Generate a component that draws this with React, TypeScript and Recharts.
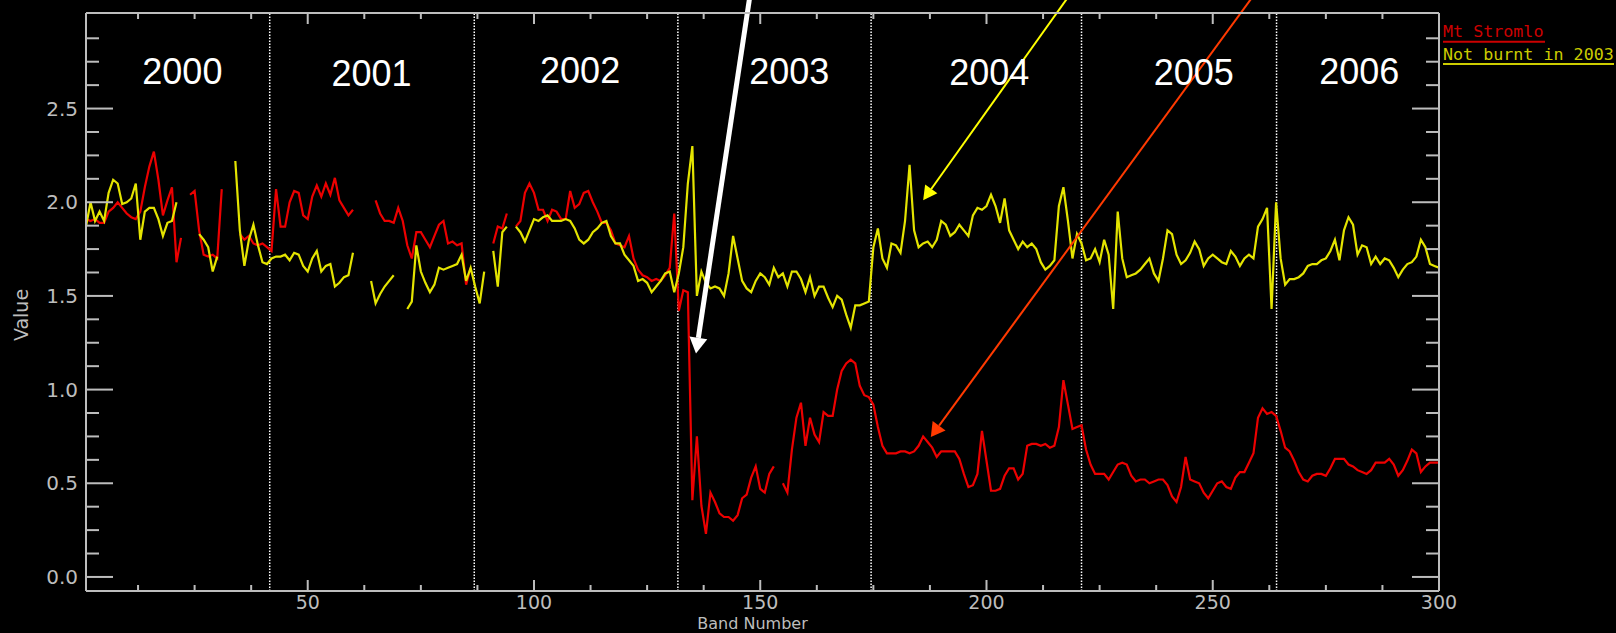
import React from 'react';
import { LineChart, Line, XAxis, YAxis, ReferenceLine, ReferenceDot } from 'recharts';

// ---------- data ----------
const bands: number[] = Array.from({ length: 300 }, (_, i) => i + 1);

const mtStromlo: (number | null)[] = [
  1.91, 1.90, 1.91, 1.89, 1.89, 1.95, 1.97, 2.00, 1.97, 1.94,
  1.92, 1.91, 1.95, 2.08, 2.19, 2.27, 2.12, 1.93, 2.01, 2.08,
  1.68, 1.81, null, 2.04, 2.06, 1.85, 1.72, 1.71, 1.72, 1.70,
  2.07, null, null, null, 1.83, 1.80, 1.82, 1.78, 1.77, 1.78,
  1.76, 1.74, 2.07, 1.87, 1.87, 2.00, 2.06, 2.05, 1.93, 1.91,
  2.03, 2.09, 2.03, 2.10, 2.04, 2.13, 2.01, 1.97, 1.93, 1.96,
  null, null, null, null, 2.01, 1.94, 1.90, 1.90, 1.89, 1.97,
  1.90, 1.77, 1.70, 1.84, 1.84, 1.80, 1.76, 1.82, 1.88, 1.90,
  1.78, 1.79, 1.77, 1.78, 1.56, 1.65, null, null, null, null,
  1.78, 1.87, 1.86, 1.94, null, 1.87, 1.90, 2.05, 2.10, 2.05,
  1.96, 1.96, 1.90, 1.96, 1.95, 1.91, 1.91, 2.06, 1.97, 1.99,
  2.05, 2.06, 2.00, 1.95, 1.89, 1.89, 1.85, 1.78, 1.77, 1.76,
  1.82, 1.70, 1.64, 1.61, 1.60, 1.58, 1.59, 1.58, 1.61, 1.65,
  1.94, 1.42, 1.53, 1.52, 0.41, 0.75, 0.38, 0.23, 0.45, 0.40,
  0.34, 0.32, 0.32, 0.30, 0.33, 0.42, 0.44, 0.53, 0.59, 0.47,
  0.45, 0.55, 0.59, null, 0.50, 0.45, 0.68, 0.85, 0.93, 0.70,
  0.85, 0.76, 0.72, 0.88, 0.86, 0.86, 1.00, 1.10, 1.14, 1.16,
  1.14, 1.02, 0.97, 0.96, 0.92, 0.80, 0.70, 0.66, 0.66, 0.66,
  0.67, 0.67, 0.66, 0.67, 0.70, 0.75, 0.72, 0.69, 0.64, 0.67,
  0.67, 0.67, 0.67, 0.63, 0.55, 0.48, 0.49, 0.55, 0.78, 0.62,
  0.46, 0.46, 0.47, 0.54, 0.58, 0.58, 0.52, 0.55, 0.70, 0.71,
  0.71, 0.70, 0.71, 0.69, 0.70, 0.80, 1.05, 0.92, 0.79, 0.80,
  0.81, 0.68, 0.60, 0.55, 0.55, 0.55, 0.52, 0.56, 0.60, 0.61,
  0.60, 0.54, 0.51, 0.52, 0.52, 0.50, 0.51, 0.52, 0.52, 0.49,
  0.43, 0.40, 0.48, 0.64, 0.52, 0.51, 0.50, 0.45, 0.42, 0.46,
  0.50, 0.51, 0.48, 0.47, 0.53, 0.56, 0.56, 0.61, 0.66, 0.85,
  0.90, 0.87, 0.88, 0.86, 0.78, 0.69, 0.67, 0.62, 0.56, 0.52,
  0.51, 0.54, 0.55, 0.55, 0.54, 0.58, 0.63, 0.63, 0.63, 0.60,
  0.59, 0.57, 0.56, 0.55, 0.57, 0.61, 0.61, 0.61, 0.63, 0.60,
  0.54, 0.57, 0.62, 0.68, 0.66, 0.56, 0.59, 0.61, 0.61, 0.61,
];

const notBurnt: (number | null)[] = [
  1.87, 2.00, 1.90, 1.95, 1.90, 2.05, 2.12, 2.10, 1.99, 2.00,
  2.02, 2.10, 1.80, 1.95, 1.97, 1.97, 1.91, 1.82, 1.89, 1.90,
  2.00, null, null, null, null, 1.83, 1.80, 1.76, 1.63, 1.71,
  null, null, null, 2.22, 1.85, 1.66, 1.80, 1.88, 1.77, 1.68,
  1.67, 1.70, 1.71, 1.71, 1.72, 1.69, 1.73, 1.72, 1.66, 1.63,
  1.70, 1.74, 1.63, 1.66, 1.67, 1.55, 1.57, 1.60, 1.61, 1.73,
  null, null, null, 1.58, 1.46, 1.51, 1.55, 1.58, 1.61, null,
  null, 1.43, 1.47, 1.77, 1.63, 1.57, 1.52, 1.56, 1.65, 1.64,
  1.65, 1.66, 1.67, 1.72, 1.58, 1.65, 1.55, 1.46, 1.63, null,
  1.74, 1.55, 1.84, 1.87, null, 1.87, 1.84, 1.79, 1.85, 1.91,
  1.90, 1.92, 1.93, 1.90, 1.90, 1.90, 1.91, 1.90, 1.86, 1.80,
  1.78, 1.80, 1.84, 1.86, 1.89, 1.90, 1.82, 1.78, 1.78, 1.72,
  1.69, 1.66, 1.58, 1.59, 1.57, 1.52, 1.55, 1.58, 1.62, 1.63,
  1.52, 1.62, 1.76, 2.10, 2.30, 1.50, 1.63, 1.57, 1.54, 1.55,
  1.54, 1.50, 1.62, 1.82, 1.70, 1.58, 1.54, 1.52, 1.58, 1.62,
  1.60, 1.56, 1.65, 1.60, 1.62, 1.55, 1.63, 1.63, 1.59, 1.52,
  1.60, 1.50, 1.55, 1.55, 1.49, 1.44, 1.50, 1.48, 1.40, 1.33,
  1.45, 1.45, 1.46, 1.47, 1.76, 1.86, 1.70, 1.65, 1.78, 1.77,
  1.73, 1.90, 2.20, 1.85, 1.76, 1.78, 1.79, 1.76, 1.80, 1.90,
  1.88, 1.82, 1.84, 1.88, 1.85, 1.82, 1.93, 1.97, 1.96, 1.98,
  2.04, 1.98, 1.89, 2.02, 1.85, 1.80, 1.75, 1.79, 1.76, 1.78,
  1.75, 1.68, 1.64, 1.66, 1.69, 1.98, 2.08, 1.90, 1.70, 1.83,
  1.78, 1.69, 1.70, 1.75, 1.68, 1.80, 1.72, 1.43, 1.95, 1.70,
  1.60, 1.61, 1.62, 1.64, 1.67, 1.70, 1.62, 1.58, 1.70, 1.85,
  1.83, 1.72, 1.67, 1.69, 1.73, 1.79, 1.75, 1.66, 1.70, 1.72,
  1.70, 1.68, 1.67, 1.74, 1.71, 1.66, 1.70, 1.72, 1.70, 1.87,
  1.91, 1.97, 1.43, 2.00, 1.70, 1.56, 1.59, 1.59, 1.60, 1.62,
  1.66, 1.67, 1.67, 1.69, 1.70, 1.74, 1.80, 1.69, 1.85, 1.92,
  1.88, 1.72, 1.77, 1.76, 1.67, 1.71, 1.67, 1.70, 1.69, 1.65,
  1.60, 1.64, 1.67, 1.68, 1.71, 1.80, 1.76, 1.67, 1.66, 1.65,
];

const xTicks = [12.5, 25, 37.5, 50, 62.5, 75, 87.5, 100, 112.5, 125, 137.5, 150,
  162.5, 175, 187.5, 200, 212.5, 225, 237.5, 250, 262.5, 275, 287.5, 300];
const xLabelled = [50, 100, 150, 200, 250, 300];
const yTicks = [0, 0.125, 0.25, 0.375, 0.5, 0.625, 0.75, 0.875, 1, 1.125, 1.25, 1.375,
  1.5, 1.625, 1.75, 1.875, 2, 2.125, 2.25, 2.375, 2.5, 2.625, 2.75, 2.875];
const yLabelled = [0, 0.5, 1, 1.5, 2, 2.5];

const yearBounds = [41.6, 86.8, 131.8, 174.5, 221.0, 264.1];
const yearNames = ['2000', '2001', '2002', '2003', '2004', '2005', '2006'];
const yearNameBands = [22.3, 64.1, 110.2, 156.4, 200.6, 245.8, 282.4];
const yearNameLevels = [2.633, 2.618, 2.636, 2.633, 2.624, 2.624, 2.633];

const seriesNames = ['Mt Stromlo', 'Not burnt in 2003'];

// annotation arrows (data coordinates: band, value)
const arrowFrom = [{ x: 147.9, y: 3.131 }, { x: 219.1, y: 3.131 }, { x: 259.85, y: 3.131 }];
const arrowTo = [{ x: 135.8, y: 1.192 }, { x: 186.0, y: 2.01 }, { x: 187.7, y: 0.747 }];

const data = bands.map((b, i) => ({ band: b, red: mtStromlo[i], yellow: notBurnt[i] }));

// ---------- styles ----------
const AX = '#bdbdbd';
const RED = '#ec0000';
const YEL = '#e4e400';
const TICK_FONT = 'DejaVu Sans';
const arrowStyles = [
  { color: '#ffffff', width: 5, headLen: 16, headHalf: 9 },
  { color: '#ffff00', width: 2, headLen: 14, headHalf: 7.5 },
  { color: '#ff3a00', width: 2, headLen: 14, headHalf: 8 },
];

const BottomTick = (p: any) => {
  const { x, y, payload } = p;
  const major = xLabelled.includes(payload.value);
  return (
    <g>
      <line x1={x} y1={y} x2={x} y2={y - (major ? 11 : 6)} stroke={AX} strokeWidth={2} />
      {major && (
        <text x={x} y={y + 18} textAnchor="middle" fill={AX} fontSize={19} fontFamily={TICK_FONT}>
          {payload.value}
        </text>
      )}
    </g>
  );
};
const TopTick = (p: any) => {
  const { x, y, payload } = p;
  const major = xLabelled.includes(payload.value);
  return <line x1={x} y1={y} x2={x} y2={y + (major ? 11 : 6)} stroke={AX} strokeWidth={2} />;
};
const LeftTick = (p: any) => {
  const { x, y, payload } = p;
  const major = yLabelled.includes(payload.value);
  return (
    <g>
      <line x1={x} y1={y} x2={x + (major ? 27 : 13)} y2={y} stroke={AX} strokeWidth={2} />
      {major && (
        <text x={x - 8} y={y + 7} textAnchor="end" fill={AX} fontSize={20} fontFamily={TICK_FONT}>
          {payload.value.toFixed(1)}
        </text>
      )}
    </g>
  );
};
const RightTick = (p: any) => {
  const { x, y, payload } = p;
  const major = yLabelled.includes(payload.value);
  return <line x1={x} y1={y} x2={x - (major ? 27 : 13)} y2={y} stroke={AX} strokeWidth={2} />;
};

const arrowShape = (s: { color: string; width: number; headLen: number; headHalf: number }) => (p: any) => {
  const x1 = Number(p.x1), y1 = Number(p.y1), x2 = Number(p.x2), y2 = Number(p.y2);
  const dx = x2 - x1, dy = y2 - y1;
  const L = Math.hypot(dx, dy) || 1;
  const ux = dx / L, uy = dy / L;
  const bx = x2 - ux * s.headLen, by = y2 - uy * s.headLen;
  const nx = -uy, ny = ux;
  return (
    <g>
      <line x1={x1} y1={y1} x2={bx} y2={by} stroke={s.color} strokeWidth={s.width} />
      <polygon
        points={`${x2},${y2} ${bx + nx * s.headHalf},${by + ny * s.headHalf} ${bx - nx * s.headHalf},${by - ny * s.headHalf}`}
        fill={s.color}
      />
    </g>
  );
};

const yearShape = (label: string) => (p: any) => (
  <text x={p.cx} y={p.cy} textAnchor="middle" fill="#ffffff" fontSize={36} fontFamily="Liberation Sans, Arial, sans-serif">
    {label}
  </text>
);

const ValueTitle = (p: any) => {
  const vb = p.viewBox || { x: 0, y: 13, width: 86, height: 578 };
  const cx = vb.x + 28;
  const cy = vb.y + vb.height / 2 + 13;
  return (
    <text x={cx} y={cy} transform={`rotate(-90, ${cx}, ${cy})`} textAnchor="middle" fill={AX} fontSize={19} fontFamily={TICK_FONT}>
      Value
    </text>
  );
};
const BandTitle = (p: any) => {
  const vb = p.viewBox || { x: 86, y: 591, width: 1353, height: 42 };
  return (
    <text x={vb.x + vb.width / 2 - 10} y={vb.y + 37.5} textAnchor="middle" fill={AX} fontSize={16} fontFamily={TICK_FONT}>
      Band Number
    </text>
  );
};

export default function App() {
  return (
    <div style={{ position: 'absolute', left: 0, top: 0, width: 1616, height: 633, background: '#000', overflow: 'hidden' }}>
      <LineChart width={1616} height={633} data={data} margin={{ top: 12, right: 176, bottom: 0, left: 0 }}>
        <XAxis
          xAxisId="b" dataKey="band" type="number" domain={[1, 300]} allowDataOverflow
          ticks={xTicks} interval={0} tick={BottomTick} tickSize={0} tickMargin={0}
          axisLine={{ stroke: AX, strokeWidth: 2 }} tickLine={false} height={42}
          label={BandTitle}
        />
        <XAxis
          xAxisId="t" dataKey="band" type="number" orientation="top" domain={[1, 300]} allowDataOverflow
          ticks={xTicks} interval={0} tick={TopTick} tickSize={0} tickMargin={0}
          axisLine={{ stroke: AX, strokeWidth: 2 }} tickLine={false} height={1}
        />
        <YAxis
          yAxisId="l" type="number" domain={[-0.075, 3.01]} allowDataOverflow
          ticks={yTicks} interval={0} tick={LeftTick} tickSize={0} tickMargin={0}
          axisLine={{ stroke: AX, strokeWidth: 2 }} tickLine={false} width={86}
          label={ValueTitle}
        />
        <YAxis
          yAxisId="r" orientation="right" type="number" domain={[-0.075, 3.01]} allowDataOverflow
          ticks={yTicks} interval={0} tick={RightTick} tickSize={0} tickMargin={0}
          axisLine={{ stroke: AX, strokeWidth: 2 }} tickLine={false} width={1}
        />
        {yearBounds.map((b) => (
          <ReferenceLine key={'yb' + b} xAxisId="b" yAxisId="l" x={b} stroke="#ffffff" strokeWidth={1.5} strokeDasharray="1.5 1.5" />
        ))}
        <Line xAxisId="b" yAxisId="l" dataKey="red" name={seriesNames[0]} stroke={RED} strokeWidth={2.2} dot={false}
          activeDot={false} isAnimationActive={false} connectNulls={false} />
        <Line xAxisId="t" yAxisId="r" dataKey="yellow" name={seriesNames[1]} stroke={YEL} strokeWidth={2.2} dot={false}
          activeDot={false} isAnimationActive={false} connectNulls={false} />
        {yearNames.map((n, i) => (
          <ReferenceDot key={n} xAxisId="b" yAxisId="l" x={yearNameBands[i]} y={yearNameLevels[i]} r={0} shape={yearShape(n)} />
        ))}
        {arrowFrom.map((f, i) => (
          <ReferenceLine key={'ar' + i} xAxisId="b" yAxisId="l" ifOverflow="visible"
            segment={[f, arrowTo[i]]} stroke={arrowStyles[i].color} shape={arrowShape(arrowStyles[i])} />
        ))}
      </LineChart>
      <svg width={1616} height={633} style={{ position: 'absolute', left: 0, top: 0, pointerEvents: 'none' }}>
        <text x={1443} y={37} fill="#cc0000" fontSize={16.7} fontFamily="DejaVu Sans Mono">{seriesNames[0]}</text>
        <line x1={1443} y1={41.7} x2={1545} y2={41.7} stroke="#cc0000" strokeWidth={2} />
        <text x={1443} y={60} fill="#cccc00" fontSize={16.7} fontFamily="DejaVu Sans Mono">{seriesNames[1]}</text>
        <line x1={1443} y1={64} x2={1614} y2={64} stroke="#cccc00" strokeWidth={2} />
      </svg>
    </div>
  );
}
